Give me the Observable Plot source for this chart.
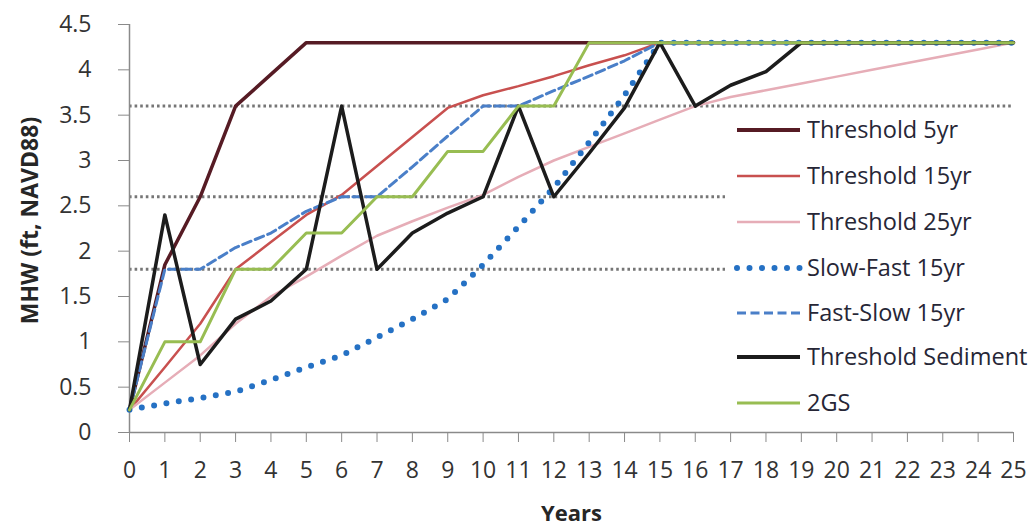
<!DOCTYPE html>
<html>
<head>
<meta charset="utf-8">
<script src="https://cdn.jsdelivr.net/npm/d3@7"></script>
<script src="https://cdn.jsdelivr.net/npm/@observablehq/plot@0.6"></script>
<style>
  html, body { margin: 0; padding: 0; background: #fff; }
  #chart { width: 1036px; height: 527px; }
</style>
</head>
<body>
<div id="chart"></div>
<script>
const years = d3.range(0, 26);
const seriesNames = ["Threshold 5yr", "Threshold 15yr", "Threshold 25yr", "Slow-Fast 15yr", "Fast-Slow 15yr", "Threshold Sediment", "2GS"];
const threshold5 = [0.25,1.85,2.6,3.6,3.95,4.3,4.3,4.3,4.3,4.3,4.3,4.3,4.3,4.3,4.3,4.3,4.3,4.3,4.3,4.3,4.3,4.3,4.3,4.3,4.3,4.3];
const threshold15 = [0.25,0.72,1.2,1.8,2.1,2.4,2.62,2.94,3.26,3.58,3.72,3.82,3.93,4.05,4.16,4.3,4.3,4.3,4.3,4.3,4.3,4.3,4.3,4.3,4.3,4.3];
const threshold25 = [0.25,0.55,0.85,1.2,1.5,1.72,1.95,2.17,2.33,2.48,2.62,2.82,3.0,3.15,3.3,3.45,3.6,3.7,3.775,3.85,3.925,4.0,4.075,4.15,4.225,4.3];
const slowFast = [0.25,0.32,0.38,0.45,0.58,0.72,0.85,1.05,1.25,1.47,1.85,2.27,2.7,3.2,3.72,4.3,4.3,4.3,4.3,4.3,4.3,4.3,4.3,4.3,4.3,4.3];
const fastSlow = [0.25,1.8,1.8,2.04,2.2,2.44,2.6,2.6,2.93,3.27,3.6,3.6,3.77,3.93,4.1,4.3,4.3,4.3,4.3,4.3,4.3,4.3,4.3,4.3,4.3,4.3];
const sediment = [0.25,2.4,0.75,1.25,1.45,1.8,3.6,1.8,2.2,2.42,2.6,3.6,2.6,3.08,3.58,4.3,3.6,3.83,3.98,4.3,4.3,4.3,4.3,4.3,4.3,4.3];
const gs2 = [0.25,1.0,1.0,1.8,1.8,2.2,2.2,2.6,2.6,3.1,3.1,3.6,3.6,4.3,4.3,4.3,4.3,4.3,4.3,4.3,4.3,4.3,4.3,4.3,4.3,4.3];
const refLevels = [3.6, 2.6, 1.8];
const yTicks = [0, 0.5, 1, 1.5, 2, 2.5, 3, 3.5, 4, 4.5];
const xTicks = d3.range(0, 26);

const seriesValues = [threshold5, threshold15, threshold25, slowFast, fastSlow, sediment, gs2];
const styles = [
  {stroke: "#561b24", strokeWidth: 3.5},
  {stroke: "#c8504f", strokeWidth: 2.5},
  {stroke: "#e6adb7", strokeWidth: 2.5},
  {stroke: "#2571c4", strokeWidth: 6, strokeDasharray: "0 12.5", strokeLinecap: "round"},
  {stroke: "#4a7fc8", strokeWidth: 3, strokeDasharray: "9 4.5"},
  {stroke: "#1c1c1c", strokeWidth: 3.5},
  {stroke: "#98bd52", strokeWidth: 3}
];
const tables = seriesValues.map(vals => years.map((x, i) => ({x, y: vals[i]})));

const plot = Plot.plot({
  width: 1036,
  height: 527,
  marginLeft: 129,
  marginRight: 23,
  marginTop: 24,
  marginBottom: 95,
  style: {fontFamily: "'Open Sans', sans-serif", background: "#fff"},
  x: {domain: [0, 25]},
  y: {domain: [0, 4.5]},
  marks: [
    Plot.ruleY(refLevels, {stroke: "#767676", strokeWidth: 3, strokeDasharray: "2.6 3"}),
    Plot.ruleX([0], {stroke: "#8a8a8a", strokeWidth: 1.5}),
    Plot.ruleY([0], {stroke: "#8a8a8a", strokeWidth: 1.5}),
    Plot.axisY({ticks: yTicks, tickSize: 11, tickPadding: 27, stroke: "#8a8a8a", fill: "#333", fontSize: 23, tickFormat: d => String(d), label: null}),
    Plot.axisX({ticks: xTicks, tickSize: 10, tickPadding: 19, stroke: "#8a8a8a", fill: "#333", fontSize: 23, tickFormat: d => String(d), label: null}),
    ...tables.map((t, i) => Plot.line(t, {x: "x", y: "y", ...styles[i]})),
    Plot.text(["MHW (ft, NAVD88)"], {frameAnchor: "left", textAnchor: "middle", dx: -99, dy: -8, rotate: -90, fontSize: 23, fontWeight: "bold", fill: "#262626"}),
    Plot.text(["Years"], {frameAnchor: "bottom", textAnchor: "middle", dy: 88, fontSize: 22, fontWeight: "bold", fill: "#262626"})
  ]
});
document.getElementById("chart").appendChild(plot);

// Legend inside the plot area (white box covering the lower reference lines)
const svg = d3.select(plot);
const lg = svg.append("g").attr("text-anchor", "start");
lg.append("rect").attr("x", 725).attr("y", 110).attr("width", 311).attr("height", 318).attr("fill", "#fff");
const rowY = [130, 176, 222, 268, 313, 357, 403];
seriesNames.forEach((name, i) => {
  const s = styles[i];
  const ln = lg.append("line")
    .attr("x1", 737).attr("x2", 800).attr("y1", rowY[i]).attr("y2", rowY[i])
    .attr("stroke", s.stroke).attr("stroke-width", s.strokeWidth + (i === 0 || i === 5 ? 0.5 : 0));
  if (s.strokeDasharray) ln.attr("stroke-dasharray", s.strokeDasharray);
  if (s.strokeLinecap) ln.attr("stroke-linecap", s.strokeLinecap);
  lg.append("text").attr("x", 807).attr("y", rowY[i]).attr("dy", "0.36em")
    .attr("text-anchor", "start")
    .attr("font-family", "'Open Sans', sans-serif").attr("font-size", 23.5)
    .attr("fill", "#262636").text(name);
});
</script>
</body>
</html>
